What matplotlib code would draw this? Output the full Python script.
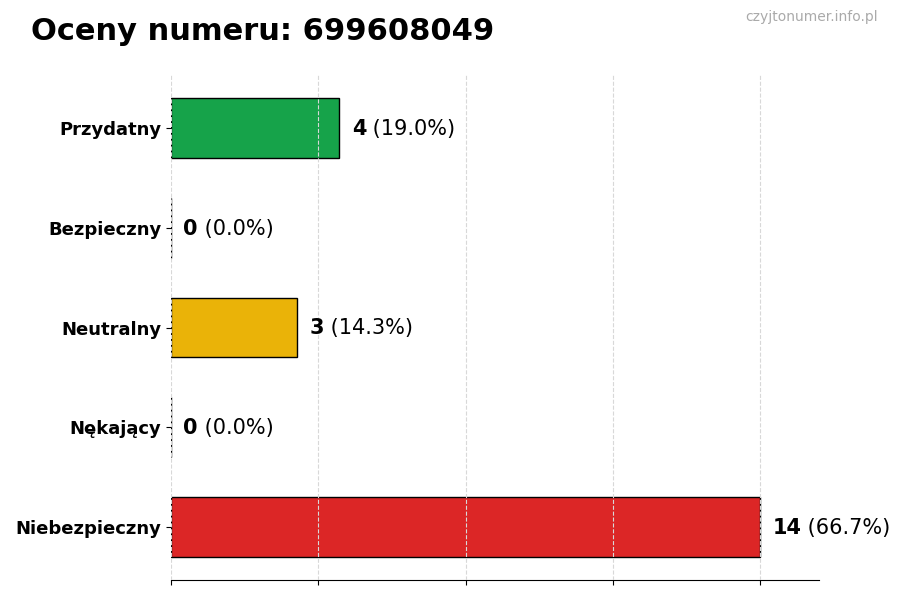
import matplotlib
matplotlib.use("Agg")
import matplotlib.pyplot as plt

categories = ["Przydatny", "Bezpieczny", "Neutralny", "Nękający", "Niebezpieczny"]
counts = [4, 0, 3, 0, 14]
percents = [19.0, 0.0, 14.3, 0.0, 66.7]
colors = ["#16a34a", "#6b7280", "#eab308", "#f97316", "#dc2626"]
title = "Oceny numeru: 699608049"
watermark = "czyjtonumer.info.pl"

fig = plt.figure(figsize=(9, 6), dpi=100)
ax = fig.add_axes([0.19, 0.0333, 0.72, 0.8417])

ypos = list(range(len(categories)))
ax.barh(ypos, counts, height=0.6, color=colors, edgecolor="black", linewidth=1, zorder=1)
ax.invert_yaxis()
ax.set_yticks(ypos)
ax.set_yticklabels(categories, fontsize=13, fontweight="bold")

vmax = max(counts)
ax.set_xlim(0, vmax * 1.1)
ax.set_xticks([vmax * i / 4 for i in range(5)])
ax.set_xticklabels([])
ax.grid(axis="x", linestyle="--", color="#d8d8d8", linewidth=0.8, zorder=3)
ax.set_axisbelow(False)
for s in ["top", "right", "left"]:
    ax.spines[s].set_visible(False)

off = vmax * 0.021
for y, c, p in zip(ypos, counts, percents):
    t = ax.text(c + off, y + 0.07, f"{c}", fontsize=15, fontweight="bold", va="baseline", ha="left")
    ax.annotate(f" ({p:.1f}%)", xy=(1, 0), xycoords=t, va="bottom", ha="left", fontsize=15)

fig.text(0.034, 0.947, title, fontsize=22, fontweight="bold", ha="left", va="center")
fig.text(0.975, 0.972, watermark, fontsize=10, color="#aaaaaa", ha="right", va="center")

fig.savefig("out.png", dpi=100)
